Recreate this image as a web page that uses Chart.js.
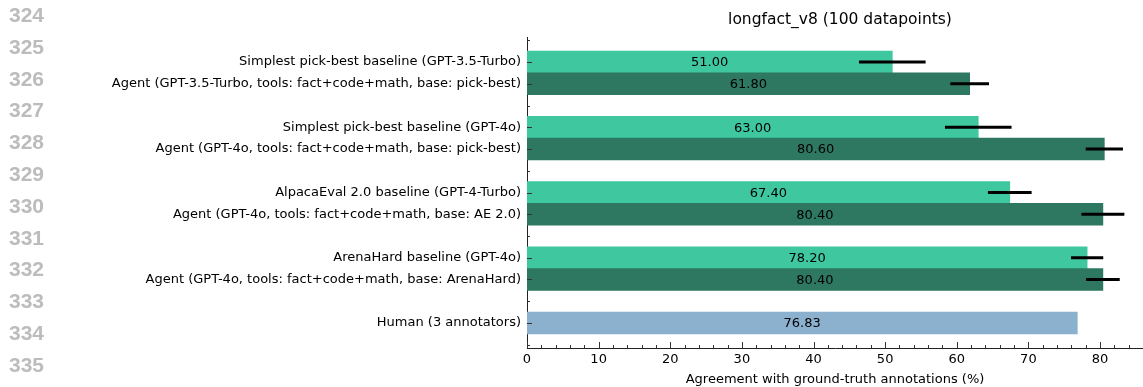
<!DOCTYPE html>
<html>
<head>
<meta charset="utf-8">
<script src="https://cdn.jsdelivr.net/npm/chart.js@4.4.1/dist/chart.umd.min.js"></script>
<style>
  html, body { margin: 0; padding: 0; background: #fff; }
  #wrap { position: relative; width: 1143px; height: 387px; }
  #grafico { position: absolute; left: 0; top: 0; }
  .linea { position: absolute; left: 9px; font: bold 21px "Liberation Sans", Arial, sans-serif; color: #bcbcbc; }
</style>
</head>
<body>
<div id="wrap">
  <canvas id="grafico" width="1143" height="387"></canvas>
</div>
<script>
/* datos del grafico */
const etiquetas = [
  "Simplest pick-best baseline (GPT-3.5-Turbo)",
  "Agent (GPT-3.5-Turbo, tools: fact+code+math, base: pick-best)",
  "Simplest pick-best baseline (GPT-4o)",
  "Agent (GPT-4o, tools: fact+code+math, base: pick-best)",
  "AlpacaEval 2.0 baseline (GPT-4-Turbo)",
  "Agent (GPT-4o, tools: fact+code+math, base: AE 2.0)",
  "ArenaHard baseline (GPT-4o)",
  "Agent (GPT-4o, tools: fact+code+math, base: ArenaHard)",
  "Human (3 annotators)"
];
// posicion de cada barra en el eje y (con huecos entre grupos)
const posiciones = [0, 1, 3, 4, 6, 7, 9, 10, 12];
const valores = [51.00, 61.80, 63.00, 80.60, 67.40, 80.40, 78.20, 80.40, 76.83];
// media anchura de las barras de error
const errores = [4.65, 2.7, 4.65, 2.6, 3.05, 3.0, 2.25, 2.35, 0];
// tipo de barra: base, agente o humano
const tipos = ["base", "agente", "base", "agente", "base", "agente", "base", "agente", "humano"];
const ticksX = [0, 10, 20, 30, 40, 50, 60, 70, 80];
const numerosLinea = [324, 325, 326, 327, 328, 329, 330, 331, 332, 333, 334, 335];
const titulo = "longfact_v8 (100 datapoints)";

const colores = { base: "#3fc79f", agente: "#2e7761", humano: "#8cb1cf" };
const fuente = "'DejaVu Sans', sans-serif";

// numeros de linea del paper (a la izquierda)
function cargarNumerosLinea() {
  const wrap = document.getElementById("wrap");
  numerosLinea.forEach((n, i) => {
    const div = document.createElement("div");
    div.className = "linea";
    div.textContent = n;
    div.style.top = (3 + i * 31.8) + "px";
    wrap.appendChild(div);
  });
}

// titulo, barras de error, valores y marcas de los ejes hacia adentro
const pluginExtras = {
  id: "extras",
  afterDatasetsDraw(chart) {
    const ctx = chart.ctx;
    const x = chart.scales.x;
    const y = chart.scales.y;
    const area = chart.chartArea;
    ctx.save();

    // titulo centrado sobre el area del grafico
    ctx.fillStyle = "#000";
    ctx.font = "15.5px " + fuente;
    ctx.textAlign = "center";
    ctx.textBaseline = "middle";
    ctx.fillText(titulo, (area.left + area.right) / 2 + 5, 20);

    // barras de error
    ctx.strokeStyle = "#000";
    ctx.lineWidth = 3;
    valores.forEach((v, i) => {
      if (!errores[i]) return;
      const py = y.getPixelForValue(posiciones[i]);
      ctx.beginPath();
      ctx.moveTo(x.getPixelForValue(v - errores[i]), py);
      ctx.lineTo(x.getPixelForValue(v + errores[i]), py);
      ctx.stroke();
    });

    // valores dentro de cada barra
    ctx.font = "13px " + fuente;
    valores.forEach((v, i) => {
      ctx.fillText(v.toFixed(2), x.getPixelForValue(v / 2), y.getPixelForValue(posiciones[i]) + 1);
    });

    // marcas eje x
    ctx.strokeStyle = "#333";
    ctx.lineWidth = 1;
    for (let v = 0; v <= x.max; v += 2) {
      const px = Math.round(x.getPixelForValue(v)) + 0.5;
      const largo = v % 10 === 0 ? 6 : 3;
      ctx.beginPath();
      ctx.moveTo(px, area.bottom);
      ctx.lineTo(px, area.bottom - largo);
      ctx.stroke();
    }
    // marcas eje y
    for (let s = -1; s <= 13; s++) {
      const py = Math.round(y.getPixelForValue(s)) + 0.5;
      const largo = posiciones.includes(s) ? 5 : 3;
      ctx.beginPath();
      ctx.moveTo(area.left, py);
      ctx.lineTo(area.left + largo, py);
      ctx.stroke();
    }
    ctx.restore();
  }
};

function cargarGrafico() {
  const data = {
    datasets: [{
      data: valores.map((v, i) => ({ x: v, y: posiciones[i] })),
      backgroundColor: tipos.map((t) => colores[t]),
      borderWidth: 0,
      barPercentage: 1,
      categoryPercentage: 1
    }]
  };

  const config = {
    type: "bar",
    data,
    options: {
      indexAxis: "y",
      responsive: false,
      animation: false,
      layout: { padding: { top: 37, right: 0, bottom: 0, left: 0 } },
      plugins: {
        legend: { display: false },
        tooltip: { enabled: false }
      },
      scales: {
        x: {
          type: "linear",
          min: 0,
          max: 86,
          grid: { display: false, drawTicks: false },
          border: { display: true, color: "#222", width: 1 },
          afterBuildTicks: (scale) => { scale.ticks = ticksX.map((v) => ({ value: v })); },
          afterFit: (scale) => { scale.height = 39; },
          ticks: {
            color: "#000",
            padding: 4,
            font: { family: fuente, size: 13 },
            callback: (v) => v
          },
          title: {
            display: true,
            text: "Agreement with ground-truth annotations (%)",
            color: "#000",
            font: { family: fuente, size: 13 },
            padding: { top: 2, bottom: 0 }
          }
        },
        y: {
          type: "linear",
          reverse: true,
          offset: false,
          min: -1.15,
          max: 13.15,
          grid: { display: false, drawTicks: false, offset: false },
          border: { display: true, color: "#222", width: 1 },
          afterBuildTicks: (scale) => { scale.ticks = posiciones.map((p) => ({ value: p })); },
          afterFit: (scale) => { scale.width = 527; },
          ticks: {
            color: "#000",
            padding: 6,
            font: { family: fuente, size: 13 },
            callback: (v) => etiquetas[posiciones.indexOf(v)]
          }
        }
      }
    },
    plugins: [pluginExtras]
  };

  const chartDOM = document.getElementById("grafico");
  new Chart(chartDOM, config);
}

cargarNumerosLinea();
cargarGrafico();
</script>
</body>
</html>
